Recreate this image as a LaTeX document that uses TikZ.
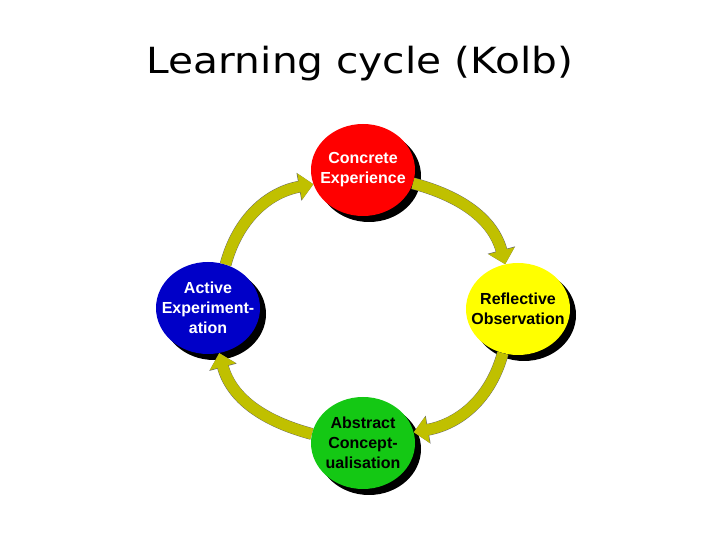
\documentclass[tikz,border=0pt]{standalone}
\usepackage{fontspec}
\setmainfont{Liberation Sans}
\newfontfamily\titlefont{DejaVu Sans}
\usetikzlibrary{arrows.meta,shapes.geometric,shadows}
\definecolor{olv}{RGB}{192,192,0}
\definecolor{cred}{RGB}{255,0,0}
\definecolor{cblue}{RGB}{0,0,200}
\definecolor{cyellow}{RGB}{255,255,0}
\definecolor{cgreen}{RGB}{20,200,20}
\tikzset{
  phase/.style={ellipse, minimum width=104pt, minimum height=92pt, inner sep=0pt,
    drop shadow={shadow xshift=6pt, shadow yshift=-6pt, opacity=1, fill=black}},
  ptext/.style={align=center, inner sep=0pt, font=\bfseries\fontsize{16}{20}\selectfont},
  cyc/.style={line width=11pt, olv, -{Triangle[length=14pt,width=26pt]},
    preaction={draw=black!60, line width=11.8pt, -{Triangle[length=14.6pt,width=27.4pt]}}},
}
\begin{document}
\begin{tikzpicture}[x=1pt,y=1pt]
\useasboundingbox (0,0) rectangle (720,540);
\fill[white] (0,0) rectangle (720,540);
\node[font=\titlefont\fontsize{36}{40}\selectfont, anchor=base] (title) at (360,466) {\scalebox{1.13}[1]{Learning cycle (Kolb)}};
\node[phase, fill=cred] (ce) at (363,370) {};
\node[phase, fill=cyellow] (ro) at (518,231) {};
\node[phase, fill=cgreen] (ac) at (363,97) {};
\node[phase, fill=cblue] (ae) at (208,232) {};
\node[ptext, text=white] (cet) at (ce) {Concrete\\Experience};
\node[ptext, text=black] (rot) at (ro) {Reflective\\Observation};
\node[ptext, text=black] (act) at (ac) {Abstract\\Concept-\\ualisation};
\node[ptext, text=white] (aet) at (ae) {Active\\Experiment-\\ation};
\draw[cyc] (ce.-15) to[out=-15, in=105] (ro.106);
\draw[cyc] (ro.-109) to[out=-105, in=10] (ac.12);
\draw[cyc] (ac.170) to[out=165, in=-75] (ae.-76);
\draw[cyc] (ae.68) to[out=75, in=190] (ce.196);
\end{tikzpicture}
\end{document}
